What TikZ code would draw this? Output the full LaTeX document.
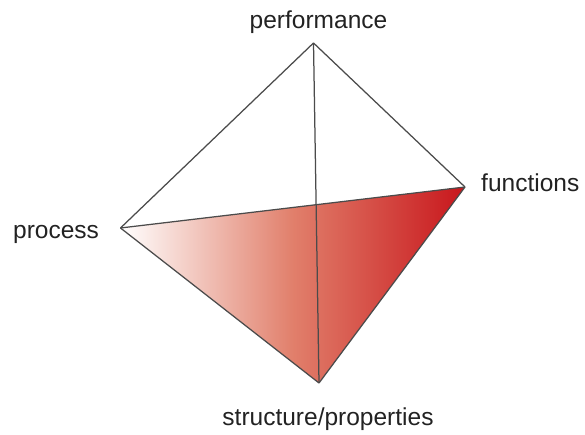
\documentclass[tikz,border=0pt]{standalone}
\usepackage{fontspec}
\setmainfont{Liberation Sans}
\definecolor{endred}{RGB}{200,22,28}
\definecolor{midsalmon}{RGB}{225,127,107}
\definecolor{edgegray}{RGB}{75,75,75}
\definecolor{labelgray}{RGB}{34,34,34}
\tikzset{
  edge/.style={draw=edgegray, line width=1.25pt, line join=round},
  lbl/.style={text=labelgray, font=\fontsize{24.5}{28}\selectfont, inner sep=0pt}
}
\begin{document}
\begin{tikzpicture}[x=1pt,y=1pt]
\useasboundingbox (0,0) rectangle (585,435);
\coordinate (T) at (313.5,392);
\coordinate (L) at (120.5,207);
\coordinate (R) at (465,248);
\coordinate (B) at (319,52);
\shade[left color=white, right color=endred, middle color=midsalmon] (L) -- (R) -- (B) -- cycle;
\draw[edge] (T) -- (L);
\draw[edge] (T) -- (R);
\draw[edge] (T) -- (B);
\draw[edge] (L) -- (R);
\draw[edge] (L) -- (B);
\draw[edge] (R) -- (B);
\node[lbl, anchor=base] (pf) at (318.5,406.5) {performance};
\node[lbl, anchor=base west] (fn) at (481,243) {functions};
\node[lbl, anchor=base west] (pr) at (13,196.5) {process};
\node[lbl, anchor=base] (sp) at (328,9) {structure/properties};
\end{tikzpicture}
\end{document}
